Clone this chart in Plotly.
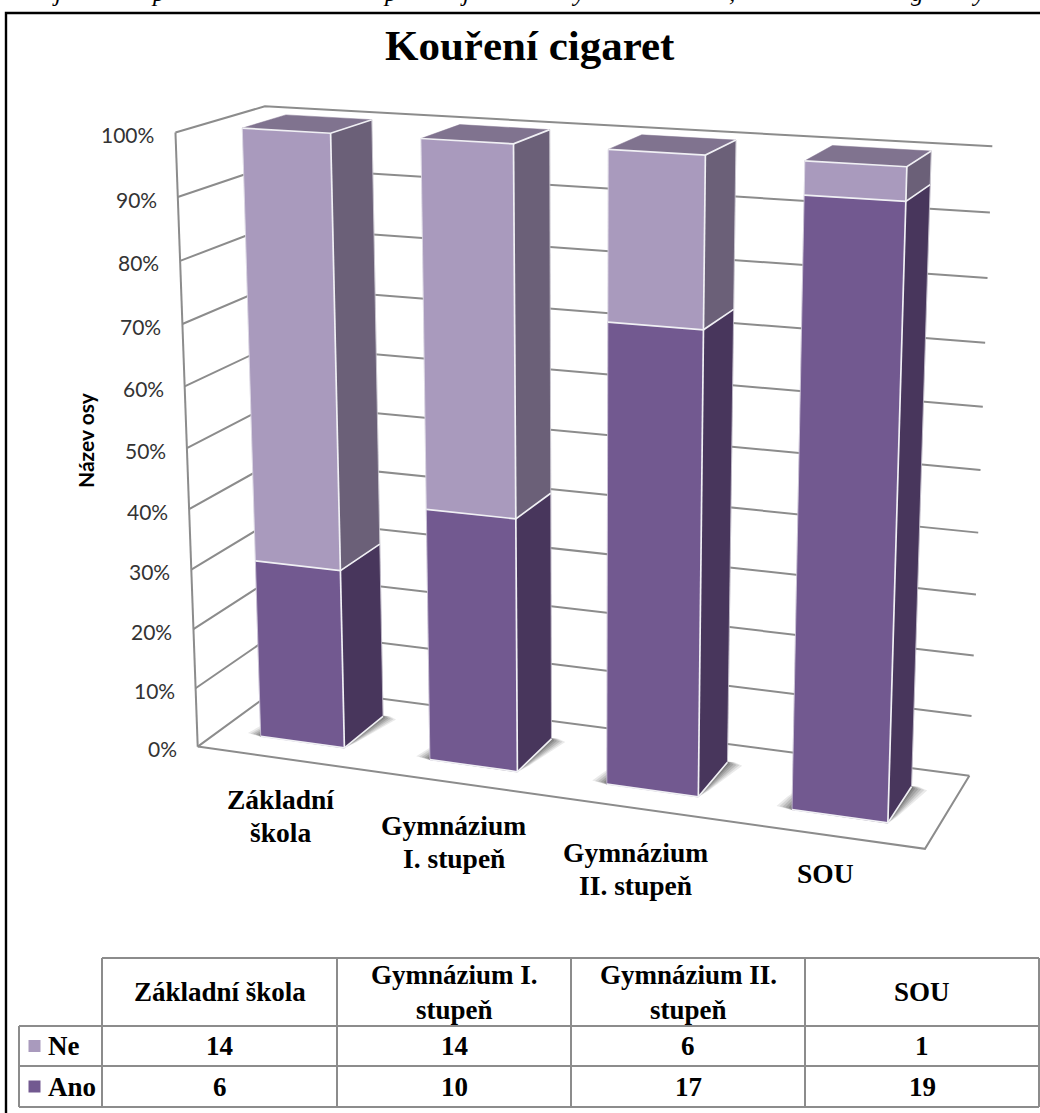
import numpy as np
import plotly.graph_objects as go

# ---------- data ----------
categories = ["Základní škola", "Gymnázium I. stupeň", "Gymnázium II. stupeň", "SOU"]
axis_label_lines = [["Základní", "škola"], ["Gymnázium", "I. stupeň"], ["Gymnázium", "II. stupeň"], ["SOU"]]
table_header_lines = [["Základní škola"], ["Gymnázium I.", "stupeň"], ["Gymnázium II.", "stupeň"], ["SOU"]]
ne_values = [14, 14, 6, 1]
ano_values = [6, 10, 17, 19]
percent_ticks = [0, 10, 20, 30, 40, 50, 60, 70, 80, 90, 100]
title_text = "Kouření cigaret"
axis_title = "Název osy"

# ---------- styling ----------
W, H = 1040, 1113
NE_FRONT, NE_SIDE, NE_TOP = "#A99ABD", "#6B6078", "#80738F"
ANO_FRONT, ANO_SIDE = "#725990", "#48365C"
GRID = "#8C8C8C"
EDGE = "#F0F0F4"
SERIF = "Liberation Serif"

# ---------- camera: (category pos, share, depth) -> page position ----------
bar_half, depth_front, depth_back = 0.0625, 0.25, 0.75
calib = [
    ((0, 1, 0), (176, 132)), ((0, 0, 0), (198, 747)), ((0, 1, 1), (264, 106)), ((0, 0, 1), (281, 686)),
    ((1, 1, 1), (992, 146)), ((1, 0, 1), (969, 777)), ((1, 0, 0), (925, 849)),
]
bar_calib = [  # fl-top, fr-top, br-top, bl-top, fl-bot, fr-bot, br-bot
    [(242, 128), (332, 133), (372, 121), (285, 115), (260, 737), (346, 748), (384, 715)],
    [(421, 138), (515, 144), (550, 131), (459, 124), (428, 760), (518, 772), (552, 738)],
    [(607, 149), (706, 155), (736, 141), (642, 134), (605, 784), (699, 797), (728, 761)],
    [(804, 161), (907, 166), (932, 152), (832, 145), (790, 810), (888, 823), (913, 786)],
]
for i, pts in enumerate(bar_calib):
    c = (i + 0.5) / 4
    u0, u1 = c - bar_half, c + bar_half
    keys = [(u0, 1, depth_front), (u1, 1, depth_front), (u1, 1, depth_back), (u0, 1, depth_back),
            (u0, 0, depth_front), (u1, 0, depth_front), (u1, 0, depth_back)]
    calib += list(zip(keys, pts))

rows = []
for (u, v, w), (x, y) in calib:
    x, y = x / 1000, y / 1000
    rows.append([u, v, w, 1, 0, 0, 0, 0, -x * u, -x * v, -x * w, -x])
    rows.append([0, 0, 0, 0, u, v, w, 1, -y * u, -y * v, -y * w, -y])
P = np.linalg.svd(np.array(rows))[2][-1].reshape(3, 4)


def proj(u, v, w):
    q = P @ np.array([u, v, w, 1.0])
    return q[0] / q[2] * 1000, q[1] / q[2] * 1000


fig = go.Figure()


def poly(points, fill=None, line=None, lw=1.5, close=True):
    xs = [p[0] for p in points]
    ys = [p[1] for p in points]
    if close:
        xs.append(xs[0])
        ys.append(ys[0])
    fig.add_trace(go.Scatter(
        x=xs, y=ys, mode="lines", hoverinfo="skip", showlegend=False,
        fill="toself" if fill else None, fillcolor=fill,
        line=dict(color=line or "rgba(0,0,0,0)", width=lw if line else 0)))


def text(x, y, s, size, family=SERIF, bold=True, color="#000000", anchor="center", yanchor="middle", angle=0, italic=False):
    s2 = f"<b>{s}</b>" if bold else s
    s2 = f"<i>{s2}</i>" if italic else s2
    fig.add_annotation(x=x, y=y, xref="x", yref="y", text=s2, showarrow=False,
                       xanchor=anchor, yanchor=yanchor, textangle=angle,
                       font=dict(family=family, size=size, color=color))


# ---------- walls ----------
for t in percent_ticks:
    v = t / 100
    poly([proj(0, v, 0), proj(0, v, 1), proj(1, v, 1)], line=GRID, lw=2, close=False)
    x, y = proj(0, v, 0)
    text(x - 19, y + 2, f"{t}%", 21, family="Lato", bold=False, color="#333333", anchor="right")
poly([proj(0, 1, 0), proj(0, 0, 0)], line=GRID, lw=2, close=False)
poly([proj(0, 0, 0), proj(1, 0, 0), proj(1, 0, 1)], line=GRID, lw=2, close=False)

# ---------- bars ----------
for i, (ne, ano) in enumerate(zip(ne_values, ano_values)):
    c = (i + 0.5) / 4
    u0, u1 = c - bar_half, c + bar_half
    w0, w1 = depth_front, depth_back
    # soft floor shadow
    for d, a in zip([0.022, 0.018, 0.014, 0.010, 0.006, 0.003], [0.09, 0.11, 0.13, 0.15, 0.17, 0.20]):
        poly([proj(u0 - d, 0, w0 + 0.02), proj(u0, 0, w0 - d * 0.25), proj(u1, 0, w0 - d * 0.5),
              proj(u1 + d * 0.3, 0, w0 + 0.1), proj(u1 + d, 0, w1 - 0.02), proj(u1 + d * 0.4, 0, w1 + d * 0.6),
              proj(u0, 0, w1), proj(u0 - d * 0.8, 0, w0 + 0.15)],
             fill=f"rgba(25,25,25,{a})")
    share = ano / (ano + ne)
    segments = [(0.0, share, ANO_FRONT, ANO_SIDE), (share, 1.0, NE_FRONT, NE_SIDE)]
    for v0, v1, front, side in segments:
        poly([proj(u1, v0, w0), proj(u1, v0, w1), proj(u1, v1, w1), proj(u1, v1, w0)], fill=side, line=side, lw=0.5)
        poly([proj(u0, v0, w0), proj(u1, v0, w0), proj(u1, v1, w0), proj(u0, v1, w0)], fill=front, line=front, lw=0.5)
    poly([proj(u0, 1, w0), proj(u1, 1, w0), proj(u1, 1, w1), proj(u0, 1, w1)], fill=NE_TOP, line=NE_TOP, lw=0.5)
    # light bevel edges
    for v in (0.0, share, 1.0):
        poly([proj(u0, v, w0), proj(u1, v, w0), proj(u1, v, w1)], line=EDGE, lw=1.7, close=False)
    poly([proj(u1, 0, w0), proj(u1, 1, w0)], line=EDGE, lw=1.7, close=False)
    poly([proj(u0, 0, w0), proj(u0, 1, w0)], line="rgba(240,240,244,0.6)", lw=1, close=False)
    poly([proj(u1, 0, w1), proj(u1, 1, w1)], line="rgba(240,240,244,0.6)", lw=1, close=False)

    # category labels
    x, y = proj(c, 0, 0)
    lines = axis_label_lines[i]
    first = y + (38 if len(lines) == 1 else 41 + 1.5 * i)
    for j, s in enumerate(lines):
        text(x - 1, first + j * 33.5, s, 27.5)

# ---------- outer frame ----------
poly([(6, H + 5), (6, 13), (W + 5, 13)], line="#000000", lw=2.4, close=False)

# cropped line of the document text above the frame (only descenders show)
for x, s in [(57, "j"), (158, "p"), (390, "p"), (465, "j"), (578, "y"), (732, ","), (917, "g"), (978, "y")]:
    text(x, 8, s, 25, bold=False, italic=True, yanchor="bottom")

# ---------- titles ----------
text(530, 45, title_text, 43)
text(85, 440, axis_title, 21, family="Lato", angle=-90)

# ---------- data table ----------
col_x = [102, 337, 571, 805, 1039]
row_y = [958, 1026, 1066, 1107]
poly([(col_x[0], row_y[0]), (col_x[-1], row_y[0])], line=GRID, lw=2, close=False)
for y in row_y[1:]:
    poly([(19, y), (col_x[-1], y)], line=GRID, lw=2, close=False)
poly([(19, row_y[1]), (19, row_y[3])], line=GRID, lw=2, close=False)
for x in col_x:
    poly([(x, row_y[0]), (x, row_y[3])], line=GRID, lw=2, close=False)

for i, lines in enumerate(table_header_lines):
    cx = (col_x[i] + col_x[i + 1]) / 2
    cy = (row_y[0] + row_y[1]) / 2
    for j, s in enumerate(lines):
        text(cx, cy + (j - (len(lines) - 1) / 2) * 35, s, 27)
    text(cx, (row_y[1] + row_y[2]) / 2, str(ne_values[i]), 27)
    text(cx, (row_y[2] + row_y[3]) / 2, str(ano_values[i]), 27)

for name, color, r in [("Ne", NE_FRONT, 1), ("Ano", ANO_FRONT, 2)]:
    cy = (row_y[r] + row_y[r + 1]) / 2
    fig.add_trace(go.Scatter(x=[34.5], y=[cy], mode="markers", hoverinfo="skip", showlegend=False,
                             marker=dict(symbol="square", size=12, color=color)))
    text(46, cy, name, 27, anchor="left")

fig.update_layout(
    width=W, height=H, margin=dict(l=0, r=0, t=0, b=0), showlegend=False,
    paper_bgcolor="white", plot_bgcolor="white",
    xaxis=dict(range=[0, W], visible=False, fixedrange=True),
    yaxis=dict(range=[H, 0], visible=False, fixedrange=True),
)
fig.write_html("out.html", config=dict(displayModeBar=False),
               post_script="document.body.style.margin='0';document.documentElement.style.overflow='hidden';")
